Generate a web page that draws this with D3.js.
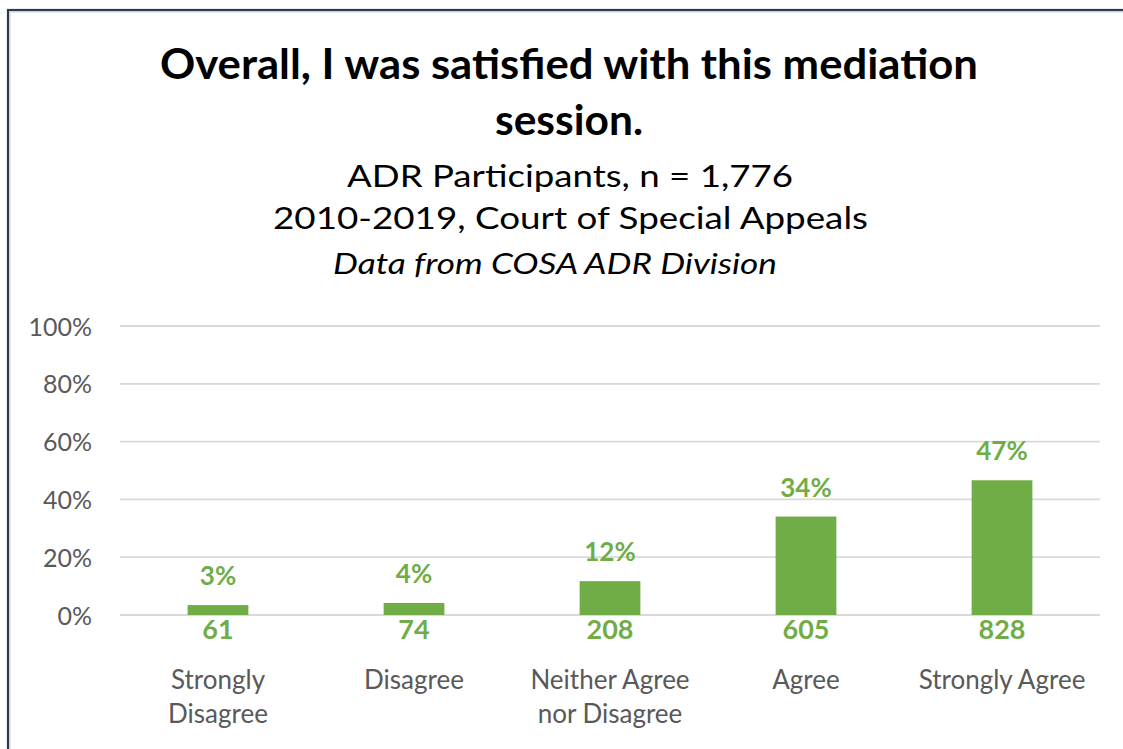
<!DOCTYPE html>
<html>
<head>
<meta charset="utf-8">
<script src="https://cdn.jsdelivr.net/npm/d3@7"></script>
<style>
  html, body { margin: 0; padding: 0; background: #ffffff; }
  svg { display: block; }
  text { font-family: Lato, "Open Sans", "DejaVu Sans", sans-serif; }
</style>
</head>
<body>
<svg id="chart" width="1123" height="749"></svg>
<script>
// Survey responses (counts) per answer category
const categories = ["Strongly\nDisagree", "Disagree", "Neither Agree\nnor Disagree", "Agree", "Strongly Agree"];
const counts = [61, 74, 208, 605, 828];
const yTicks = [0, 0.2, 0.4, 0.6, 0.8, 1.0];

const titleLines = ["Overall, I was satisfied with this mediation", "session."];
const subtitleLines = ["ADR Participants, n = 1,776", "2010-2019, Court of Special Appeals"];
const sourceLine = "Data from COSA ADR Division";

const total = d3.sum(counts);
const shares = counts.map(c => c / total);

const W = 1123, H = 749;
const svg = d3.select("#chart");
const green = "#70AD47";
const labelGray = "#595959";

// Chart frame
svg.append("rect").attr("x", 10).attr("y", 12).attr("width", W).attr("height", H)
  .attr("fill", "none").attr("stroke", "#E3E6EA").attr("stroke-width", 2);
svg.append("rect").attr("x", 8).attr("y", 10).attr("width", W + 20).attr("height", H + 20)
  .attr("fill", "none").attr("stroke", "#2F3A50").attr("stroke-width", 2.2);

// Titles: each line pinned to its start/end
function line(text, x0, x1, y, size, weight, style, color) {
  svg.append("text")
    .attr("x", x0).attr("y", y)
    .attr("textLength", x1 - x0).attr("lengthAdjust", "spacingAndGlyphs")
    .attr("font-size", size).attr("font-weight", weight)
    .attr("font-style", style).attr("fill", color)
    .text(text);
}
line(titleLines[0], 160, 978, 79, 42, "bold", "normal", "#000");
line(titleLines[1], 495, 643, 135, 42, "bold", "normal", "#000");
line(subtitleLines[0], 347, 793, 187, 30, "normal", "normal", "#000");
line(subtitleLines[1], 273, 868, 229, 30, "normal", "normal", "#000");
line(sourceLine, 333, 777, 274, 28, "normal", "italic", "#000");

// Scales
const x = d3.scaleBand().domain(categories).range([120, 1100])
  .paddingInner(0.69).paddingOuter(0.345);
const y = d3.scaleLinear().domain([0, 1]).range([615, 326]);

// Gridlines
svg.append("g").selectAll("line").data(yTicks).join("line")
  .attr("x1", 120).attr("x2", 1100)
  .attr("y1", d => y(d)).attr("y2", d => y(d))
  .attr("stroke", "#D9D9D9").attr("stroke-width", 1.8);

// Y axis labels
const yAxis = svg.append("g").attr("transform", "translate(92,0)")
  .call(d3.axisLeft(y).tickValues(yTicks).tickFormat(d3.format(".0%")).tickSize(0).tickPadding(0));
yAxis.select(".domain").remove();
yAxis.selectAll("text")
  .attr("font-family", 'Lato, "Open Sans", sans-serif')
  .attr("font-size", 25).attr("fill", labelGray).attr("dy", "0.36em");

// Bars
svg.append("g").selectAll("rect").data(categories).join("rect")
  .attr("x", d => x(d)).attr("width", x.bandwidth())
  .attr("y", (d, i) => y(shares[i]))
  .attr("height", (d, i) => y(0) - y(shares[i]))
  .attr("fill", green);

// Percent labels above bars
svg.append("g").selectAll("text").data(categories).join("text")
  .attr("x", d => x(d) + x.bandwidth() / 2)
  .attr("y", (d, i) => y(shares[i]) - 20)
  .attr("text-anchor", "middle").attr("font-size", 26).attr("font-weight", "bold")
  .attr("fill", green)
  .text((d, i) => Math.round(shares[i] * 100) + "%");

// Count labels below the baseline
svg.append("g").selectAll("text").data(categories).join("text")
  .attr("x", d => x(d) + x.bandwidth() / 2)
  .attr("y", y(0) + 24)
  .attr("text-anchor", "middle").attr("font-size", 27).attr("font-weight", "bold")
  .attr("fill", green)
  .text((d, i) => counts[i]);

// Category labels
const cat = svg.append("g").selectAll("text").data(categories).join("text")
  .attr("x", d => x(d) + x.bandwidth() / 2)
  .attr("y", 689)
  .attr("text-anchor", "middle").attr("font-size", 26).attr("fill", labelGray);
cat.selectAll("tspan").data(d => d.split("\n")).join("tspan")
  .attr("x", function () { return this.parentNode.getAttribute("x"); })
  .attr("dy", (d, i) => i === 0 ? 0 : 34)
  .text(d => d);
</script>
</body>
</html>
